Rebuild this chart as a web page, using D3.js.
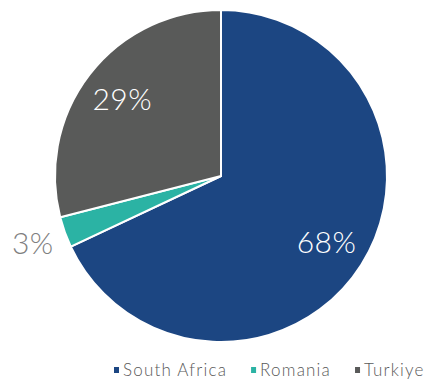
<!DOCTYPE html>
<html lang="en">
<head>
<meta charset="UTF-8">
<script src="https://d3js.org/d3.v7.min.js"></script>
<style>
  body { margin: 0; background: #fff; font-family: 'Lato', sans-serif; }
</style>
</head>
<body>
<div id="chart"></div>
<script>
// Data
const countries = ["South Africa", "Romania", "Turkiye"];
const shares = [68, 3, 29];
const colors = ["#1C4682", "#2BB3A4", "#595A59"];

const width = 434, height = 380;
const cx = 221, cy = 176, radius = 166;

const svg = d3.select("#chart").append("svg")
    .attr("width", width)
    .attr("height", height);

const pie = d3.pie().sort(null).value(d => d.value);
const arcs = pie(countries.map((c, i) => ({ name: c, value: shares[i] })));

const arc = d3.arc().innerRadius(0).outerRadius(radius);
const labelArc = d3.arc().innerRadius(125).outerRadius(125);
const outerArc = d3.arc().innerRadius(200).outerRadius(200);

const g = svg.append("g").attr("transform", `translate(${cx},${cy})`);

g.selectAll("path")
  .data(arcs)
  .join("path")
    .attr("d", arc)
    .attr("fill", (d, i) => colors[i])
    .attr("stroke", "#fff")
    .attr("stroke-width", 2);

// Slice labels (small slices go outside)
g.selectAll("text")
  .data(arcs)
  .join("text")
    .attr("transform", d => `translate(${(d.data.value < 5 ? outerArc : labelArc).centroid(d)})`)
    .attr("text-anchor", "middle")
    .attr("dy", "0.35em")
    .attr("fill", d => d.data.value < 5 ? "#7f7f7f" : "#fff")
    .style("font-size", "30px")
    .style("font-weight", 300)
    .style("letter-spacing", "0.5px")
    .text(d => d.data.value + "%");

// Legend
const legend = svg.append("g").attr("transform", "translate(114,370)");
let x = 0;
countries.forEach((c, i) => {
  const item = legend.append("g").attr("transform", `translate(${x},0)`);
  item.append("rect")
      .attr("x", 0).attr("y", -3)
      .attr("width", 5).attr("height", 6)
      .attr("fill", colors[i]);
  const t = item.append("text")
      .attr("x", 9).attr("dy", "0.35em")
      .attr("fill", "#595959")
      .style("font-size", "17px")
      .style("font-weight", 300)
      .style("letter-spacing", "1.2px")
      .text(c);
  x += 9 + t.node().getComputedTextLength() + 24;
});
</script>
</body>
</html>
